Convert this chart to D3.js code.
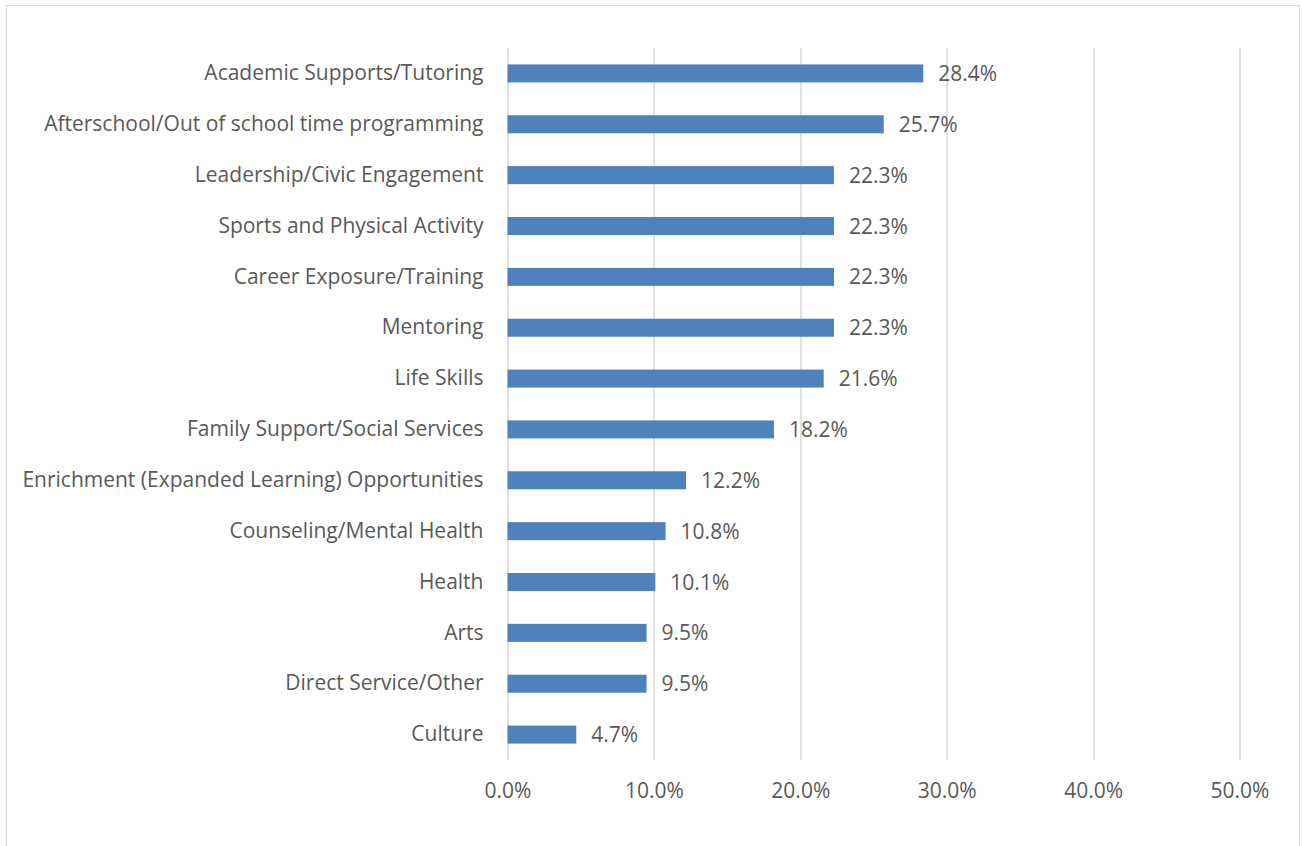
<!DOCTYPE html>
<meta charset="utf-8">
<style>
  body { margin: 0; background: #fff; }
  text { font-family: "Open Sans", sans-serif; fill: #595959; }
</style>
<body>
<script src="https://cdn.jsdelivr.net/npm/d3@7"></script>
<script>

// Categories top to bottom, and their shares (%)
var categories = [
  "Academic Supports/Tutoring",
  "Afterschool/Out of school time programming",
  "Leadership/Civic Engagement",
  "Sports and Physical Activity",
  "Career Exposure/Training",
  "Mentoring",
  "Life Skills",
  "Family Support/Social Services",
  "Enrichment (Expanded Learning) Opportunities",
  "Counseling/Mental Health",
  "Health",
  "Arts",
  "Direct Service/Other",
  "Culture"
];
var values = [28.4, 25.7, 22.3, 22.3, 22.3, 22.3, 21.6, 18.2, 12.2, 10.8, 10.1, 9.5, 9.5, 4.7];
var tickValues = [0, 10, 20, 30, 40, 50];

var W = 1302, H = 846;
var margin = {top: 48, left: 507.5, right: 62.5, bottom: 86};
var width = W - margin.left - margin.right,
    height = H - margin.top - margin.bottom;
var fontSize = "21px";

var svg = d3.select("body").append("svg")
    .attr("width", W)
    .attr("height", H);

// chart frame
svg.append("rect")
    .attr("x", 6.5).attr("y", 5.5)
    .attr("width", 1293).attr("height", 850)
    .attr("fill", "none")
    .attr("stroke", "#d9d9d9");

var g = svg.append("g")
    .attr("transform", "translate(" + margin.left + "," + margin.top + ")");

var x = d3.scaleLinear().domain([0, 50]).range([0, width]);
var y = d3.scaleBand().domain(categories).range([0, height]).paddingInner(0.646).paddingOuter(0.323);

// gridlines
g.selectAll(".grid")
    .data(tickValues)
  .enter().append("line")
    .attr("x1", function(d) { return Math.round(x(d)) + 0.5; })
    .attr("x2", function(d) { return Math.round(x(d)) + 0.5; })
    .attr("y1", 0)
    .attr("y2", height)
    .attr("stroke", "#d9d9d9")
    .attr("stroke-width", 1.5);

// bars
g.selectAll(".bar")
    .data(values)
  .enter().append("rect")
    .attr("class", "bar")
    .attr("x", 0)
    .attr("y", function(d, i) { return y(categories[i]); })
    .attr("width", function(d) { return x(d); })
    .attr("height", y.bandwidth())
    .attr("fill", "#4f81bd");

// value labels
g.selectAll(".val")
    .data(values)
  .enter().append("text")
    .attr("x", function(d) { return x(d) + 15; })
    .attr("y", function(d, i) { return y(categories[i]) + y.bandwidth() / 2; })
    .attr("dy", "0.36em")
    .style("font-size", fontSize)
    .text(function(d) { return d.toFixed(1) + "%"; });

// x axis
var xAxis = g.append("g")
    .attr("transform", "translate(0," + height + ")")
    .call(d3.axisBottom(x).tickValues(tickValues).tickSize(0).tickPadding(23)
      .tickFormat(function(d) { return d.toFixed(1) + "%"; }));
xAxis.select(".domain").remove();
xAxis.selectAll("text").style("font-size", fontSize).attr("fill", "#595959");

// y axis (category labels)
var yAxis = g.append("g")
    .call(d3.axisLeft(y).tickSize(0).tickPadding(24));
yAxis.select(".domain").remove();
yAxis.selectAll("text").style("font-size", fontSize).attr("fill", "#595959");

</script>
</body>
